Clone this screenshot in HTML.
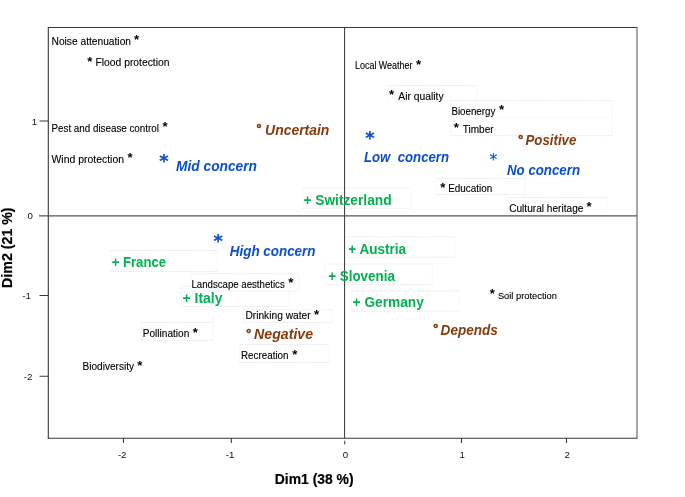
<!DOCTYPE html>
<html lang="en"><head><meta charset="utf-8"><title>MCA biplot</title>
<style>
html,body{margin:0;padding:0;background:#fff;}
body{width:685px;height:497px;overflow:hidden;}
svg{display:block;}
text{font-family:"Liberation Sans",sans-serif;}
.s{fill:#000;stroke:#000;stroke-width:0.12;}
.b{font-weight:bold;}
.i{font-style:italic;}
.a{font-weight:bold;fill:#000;}
.ba{font-family:"DejaVu Sans",sans-serif;font-weight:bold;fill:#0b50c9;stroke:#0b50c9;stroke-width:0.25;}
.bh{fill:none;stroke:#e2e2e2;stroke-width:0.8;stroke-dasharray:1.5 1;}
.bv{fill:none;stroke:#efefef;stroke-width:0.8;stroke-dasharray:1.5 1;}
.wb{fill:#fff;stroke:none;}
.ax{stroke:#383838;stroke-width:1.1;fill:none;}
.ah{stroke:#555;stroke-width:1.4;fill:none;}
.t{fill:#111;font-size:9.7px;}
.k{fill:#000;stroke:#000;stroke-width:0.2;}
.d{stroke:#843c0c;stroke-width:0.5;}
</style></head><body>
<svg width="685" height="497" viewBox="0 0 685 497">
<rect width="685" height="497" fill="#fff"/>
<rect class="wb" x="110.5" y="250.5" width="107.0" height="21.0"/>
<path class="bh" d="M110.5 250.5H217.5M110.5 271.5H217.5"/><path class="bv" d="M110.5 250.5V271.5M217.5 250.5V271.5"/>
<rect class="wb" x="181.5" y="286.2" width="108.0" height="20.3"/>
<path class="bh" d="M181.5 286.2H289.5M181.5 306.5H289.5"/><path class="bv" d="M181.5 286.2V306.5M289.5 286.2V306.5"/>
<rect class="wb" x="190.5" y="273.5" width="108.0" height="17.5"/>
<path class="bh" d="M190.5 273.5H298.5M190.5 291.0H298.5"/><path class="bv" d="M190.5 273.5V291.0M298.5 273.5V291.0"/>
<rect class="wb" x="243.5" y="309.8" width="89.0" height="12.7"/>
<path class="bh" d="M243.5 309.8H332.5M243.5 322.5H332.5"/><path class="bv" d="M243.5 309.8V322.5M332.5 309.8V322.5"/>
<rect class="wb" x="141.5" y="322.5" width="72.0" height="17.8"/>
<path class="bh" d="M141.5 322.5H213.5M141.5 340.3H213.5"/><path class="bv" d="M141.5 322.5V340.3M213.5 322.5V340.3"/>
<rect class="wb" x="239.5" y="344.5" width="90.0" height="18.0"/>
<path class="bh" d="M239.5 344.5H329.5M239.5 362.5H329.5"/><path class="bv" d="M239.5 344.5V362.5M329.5 344.5V362.5"/>
<rect class="wb" x="302.5" y="188.2" width="108.0" height="20.4"/>
<path class="bh" d="M302.5 188.2H410.5M302.5 208.6H410.5"/><path class="bv" d="M302.5 188.2V208.6M410.5 188.2V208.6"/>
<rect class="wb" x="387.5" y="85.5" width="89.2" height="16.5"/>
<path class="bh" d="M387.5 85.5H476.7"/><path class="bv" d="M387.5 85.5V102M476.7 85.5V102"/>
<rect class="wb" x="450.2" y="100.7" width="161.8" height="17.5"/>
<path class="bh" d="M450.2 100.7H612M450.2 118.2H612"/><path class="bv" d="M450.2 100.7V118.2M612 100.7V118.2"/>
<rect class="wb" x="450.2" y="118.2" width="161.8" height="17.4"/>
<path class="bh" d="M450.2 135.6H612"/><path class="bv" d="M450.2 118.2V135.6M612 118.2V135.6"/>
<rect class="wb" x="436.5" y="178.5" width="89.0" height="16.0"/>
<path class="bh" d="M436.5 178.5H525.5M436.5 194.5H525.5"/><path class="bv" d="M436.5 178.5V194.5M525.5 178.5V194.5"/>
<rect class="wb" x="507.5" y="197.5" width="99.0" height="16.7"/>
<path class="bh" d="M507.5 197.5H606.5"/><path class="bv" d="M507.5 197.5V214.2M606.5 197.5V214.2"/>
<rect class="wb" x="347.2" y="236.8" width="107.8" height="20.4"/>
<path class="bh" d="M347.2 236.8H455M347.2 257.2H455"/><path class="bv" d="M347.2 236.8V257.2M455 236.8V257.2"/>
<rect class="wb" x="325" y="264" width="107.4" height="20.6"/>
<path class="bh" d="M325 264H432.4M325 284.6H432.4"/><path class="bv" d="M325 264V284.6M432.4 264V284.6"/>
<rect class="wb" x="351.4" y="290.9" width="107.6" height="20.3"/>
<path class="bh" d="M351.4 290.9H459M351.4 311.2H459"/><path class="bv" d="M351.4 290.9V311.2M459 290.9V311.2"/>
<path class="ax" d="M48.3 26.9V438.90000000000003M48.3 27.5H637.0M48.3 438.3H637.0"/>
<path class="ah" style="stroke:#6a6a6a;stroke-width:1.2" d="M637.0 26.9V438.90000000000003"/>
<path class="ah" d="M39 215.85H637.0"/>
<path class="ax" style="stroke:#464646" d="M344.55 27.5V438.3M344.75 440.8V444.6"/>
<path class="ax" stroke-width="1" d="M39.5 121.0H48.3M39.5 295.5H48.3M39.5 376.3H48.3M123.5 438.3V442.90000000000003M231.3 438.3V442.90000000000003M461.5 438.3V442.90000000000003M566.5 438.3V442.90000000000003"/>
<text class="t" x="37.2" y="124.50" text-anchor="end">1</text>
<text class="t" x="32.9" y="219.35" text-anchor="end">0</text>
<text class="t" x="30.9" y="299.00" text-anchor="end">-1</text>
<text class="t" x="32.3" y="379.80" text-anchor="end">-2</text>
<text class="t" x="122.2" y="457.8" text-anchor="middle">-2</text>
<text class="t" x="230.0" y="457.8" text-anchor="middle">-1</text>
<text class="t" x="345.4" y="457.8" text-anchor="middle">0</text>
<text class="t" x="462.2" y="457.8" text-anchor="middle">1</text>
<text class="t" x="567.2" y="457.8" text-anchor="middle">2</text>
<text class="s" x="51.5" y="44.5" font-size="10.7" textLength="79.5" lengthAdjust="spacingAndGlyphs">Noise attenuation</text>
<text class="s" x="95.5" y="66.0" font-size="10.7" textLength="74" lengthAdjust="spacingAndGlyphs">Flood protection</text>
<text class="s" x="51.5" y="132.0" font-size="10.7" textLength="107.4" lengthAdjust="spacingAndGlyphs">Pest and disease control</text>
<text class="s" x="51.5" y="162.5" font-size="10.7" textLength="72.5" lengthAdjust="spacingAndGlyphs">Wind protection</text>
<text class="s" x="355.1" y="68.5" font-size="10.3" textLength="57.3" lengthAdjust="spacingAndGlyphs">Local Weather</text>
<text class="s" x="398.3" y="99.7" font-size="10.7" textLength="45.3" lengthAdjust="spacingAndGlyphs">Air quality</text>
<text class="s" x="451.4" y="114.7" font-size="10.7" textLength="44" lengthAdjust="spacingAndGlyphs">Bioenergy</text>
<text class="s" x="462.7" y="132.6" font-size="10.7" textLength="30.9" lengthAdjust="spacingAndGlyphs">Timber</text>
<text class="s" x="448.2" y="192" font-size="10.7" textLength="44" lengthAdjust="spacingAndGlyphs">Education</text>
<text class="s" x="509.2" y="211.5" font-size="10.7" textLength="74.2" lengthAdjust="spacingAndGlyphs">Cultural heritage</text>
<text class="s" x="191.5" y="288" font-size="10.7" textLength="93.2" lengthAdjust="spacingAndGlyphs">Landscape aesthetics</text>
<text class="s" x="245.4" y="318.7" font-size="10.7" textLength="65.2" lengthAdjust="spacingAndGlyphs">Drinking water</text>
<text class="s" x="142.7" y="336.5" font-size="10.7" textLength="46.6" lengthAdjust="spacingAndGlyphs">Pollination</text>
<text class="s" x="241" y="359" font-size="10.7" textLength="47.5" lengthAdjust="spacingAndGlyphs">Recreation</text>
<text class="s" x="82.5" y="369.8" font-size="10.7" textLength="51.5" lengthAdjust="spacingAndGlyphs">Biodiversity</text>
<text class="s" x="497.9" y="298.9" font-size="9.9" textLength="59.1" lengthAdjust="spacingAndGlyphs">Soil protection</text>
<text class="a" x="133.90" y="44.25" font-size="13.2">*</text>
<text class="a" x="87.30" y="65.80" font-size="13.2">*</text>
<text class="a" x="162.60" y="131.45" font-size="13.2">*</text>
<text class="a" x="127.40" y="162.10" font-size="13.2">*</text>
<text class="a" x="416.10" y="69.25" font-size="13.2">*</text>
<text class="a" x="388.90" y="99.40" font-size="13.2">*</text>
<text class="a" x="498.95" y="113.90" font-size="13.2">*</text>
<text class="a" x="453.80" y="131.55" font-size="13.2">*</text>
<text class="a" x="440.25" y="192.30" font-size="13.2">*</text>
<text class="a" x="586.45" y="210.50" font-size="13.2">*</text>
<text class="a" x="288.15" y="287.40" font-size="13.2">*</text>
<text class="a" x="313.95" y="319.05" font-size="13.2">*</text>
<text class="a" x="192.70" y="336.50" font-size="13.2">*</text>
<text class="a" x="292.35" y="358.50" font-size="13.2">*</text>
<text class="a" x="137.20" y="370.45" font-size="13.2">*</text>
<text class="a" x="489.75" y="298.05" font-size="13.2">*</text>
<text class="b" x="111.7" y="267.0" font-size="14" fill="#04b04f" textLength="54.3" lengthAdjust="spacingAndGlyphs">+ France</text>
<text class="b" x="182.5" y="302.8" font-size="14" fill="#04b04f" textLength="40" lengthAdjust="spacingAndGlyphs">+ Italy</text>
<text class="b" x="303.4" y="204.5" font-size="14" fill="#04b04f" textLength="88.2" lengthAdjust="spacingAndGlyphs">+ Switzerland</text>
<text class="b" x="348.3" y="253.6" font-size="14" fill="#04b04f" textLength="57.8" lengthAdjust="spacingAndGlyphs">+ Austria</text>
<text class="b" x="328.2" y="280.6" font-size="14" fill="#04b04f" textLength="66.7" lengthAdjust="spacingAndGlyphs">+ Slovenia</text>
<text class="b" x="352.6" y="307.0" font-size="14" fill="#04b04f" textLength="71.2" lengthAdjust="spacingAndGlyphs">+ Germany</text>
<text class="b i" x="176" y="170.9" font-size="14" fill="#0b50c9" textLength="81" lengthAdjust="spacingAndGlyphs">Mid concern</text>
<text class="b i" x="229.8" y="256" font-size="14" fill="#0b50c9" textLength="85.7" lengthAdjust="spacingAndGlyphs">High concern</text>
<text class="b i" x="364" y="161.6" font-size="14" fill="#0b50c9" textLength="85" lengthAdjust="spacingAndGlyphs">Low&#160; concern</text>
<text class="b i" x="507" y="175.2" font-size="14" fill="#0b50c9" textLength="73" lengthAdjust="spacingAndGlyphs">No concern</text>
<text class="b i" x="265.1" y="134.7" font-size="14" fill="#843c0c" textLength="64.2" lengthAdjust="spacingAndGlyphs">Uncertain</text>
<text class="b i" x="525.5" y="145" font-size="14" fill="#843c0c" textLength="50.8" lengthAdjust="spacingAndGlyphs">Positive</text>
<text class="b i" x="254.1" y="339.0" font-size="14" fill="#843c0c" textLength="59" lengthAdjust="spacingAndGlyphs">Negative</text>
<text class="b i" x="440.6" y="335" font-size="14" fill="#843c0c" textLength="57.3" lengthAdjust="spacingAndGlyphs">Depends</text>
<text class="b i d" x="255.79999999999998" y="132.5" font-size="13" fill="#843c0c">°</text>
<text class="b i d" x="517.4" y="143.5" font-size="13" fill="#843c0c">°</text>
<text class="b i d" x="245.4" y="338.40000000000003" font-size="13" fill="#843c0c">°</text>
<text class="b i d" x="432.4" y="333.20000000000005" font-size="13" fill="#843c0c">°</text>
<text class="ba" x="159.3" y="166.538" font-size="17.8" opacity="1">*</text>
<text class="ba" x="365.3" y="143.93800000000002" font-size="17.8" opacity="1">*</text>
<text class="ba" x="213.4" y="247.038" font-size="17.8" opacity="1">*</text>
<text x="489.5" y="164.9" font-size="15.5" fill="#0b50c9" style="font-family:'DejaVu Sans',sans-serif" stroke="#0b50c9" stroke-width="0.15">*</text>
<text class="b k" x="274.8" y="484.2" font-size="14.5" textLength="78.8" lengthAdjust="spacingAndGlyphs">Dim1 (38 %)</text>
<text class="b k" transform="translate(11.8 287.9) rotate(-90)" font-size="14.5" textLength="80.5" lengthAdjust="spacingAndGlyphs">Dim2 (21 %)</text>
<rect x="684" y="0" width="1" height="497" fill="#fafafa"/>
</svg></body></html>
